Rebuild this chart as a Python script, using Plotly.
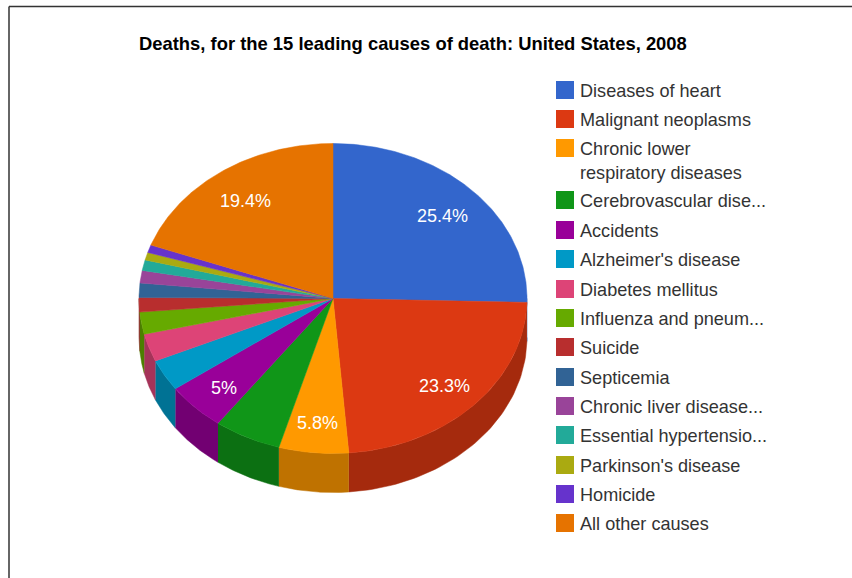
import numpy as np
import plotly.graph_objects as go

causes = ["Diseases of heart", "Malignant neoplasms", "Chronic lower<br>respiratory diseases",
          "Cerebrovascular dise...", "Accidents", "Alzheimer's disease", "Diabetes mellitus",
          "Influenza and pneum...", "Suicide", "Septicemia", "Chronic liver disease...",
          "Essential hypertensio...", "Parkinson's disease", "Homicide", "All other causes"]
shares = [25.4, 23.3, 5.8, 5.6, 5.0, 3.3, 2.9, 2.3, 1.5, 1.5, 1.3, 1.1, 0.8, 0.8, 19.4]
labels = ["25.4%", "23.3%", "5.8%", "", "5%", "", "", "", "", "", "", "", "", "", "19.4%"]
colors = ["#3366CC", "#DC3912", "#FF9900", "#109618", "#990099", "#0099C6", "#DD4477", "#66AA00",
          "#B82E2E", "#316395", "#994499", "#22AA99", "#AAAA11", "#6633CC", "#E67300"]
legend_y = [90, 119, 148, 200, 230, 259, 289, 318, 347, 377, 406, 435, 465, 494, 523]

CX, CY, RX, RY, DEPTH = 333, 298.5, 194, 155, 39
LABEL_R = 0.79
LABEL_DY = 3

def darken(c, k=0.75):
    return "#" + "".join(f"{int(int(c[i:i+2], 16) * k):02X}" for i in (1, 3, 5))

def pt(theta):
    return CX + RX * np.sin(theta), CY - RY * np.cos(theta)

fig = go.Figure()
edges = np.cumsum([0] + shares) / sum(shares) * 2 * np.pi

# walls first (they sit below the top face)
for i, c in enumerate(colors):
    a, b = max(edges[i], np.pi / 2), min(edges[i + 1], 3 * np.pi / 2)
    if b <= a:
        continue
    t = np.linspace(a, b, 60)
    x, y = pt(t)
    fig.add_trace(go.Scatter(x=np.r_[x, x[::-1]], y=np.r_[y, y[::-1] + DEPTH], mode="lines", fill="toself",
                             fillcolor=darken(c), line=dict(color=darken(c), width=0.5), hoverinfo="skip"))

# top face
for i, c in enumerate(colors):
    t = np.linspace(edges[i], edges[i + 1], max(8, int(shares[i] * 6)))
    x, y = pt(t)
    fig.add_trace(go.Scatter(x=np.r_[CX, x, CX], y=np.r_[CY, y, CY], mode="lines", fill="toself",
                             fillcolor=c, line=dict(color=c, width=0.5), name=causes[i],
                             hoverinfo="name"))

# slice labels
for i, lab in enumerate(labels):
    if lab:
        mid = (edges[i] + edges[i + 1]) / 2
        fig.add_annotation(x=CX + RX * LABEL_R * np.sin(mid), y=CY - RY * LABEL_R * np.cos(mid) + LABEL_DY, text=lab,
                           showarrow=False, font=dict(family="Liberation Sans", size=18, color="white"))

# legend
for name, c, ly in zip(causes, colors, legend_y):
    fig.add_shape(type="rect", x0=556, x1=574, y0=ly - 9, y1=ly + 9, fillcolor=c, line_width=0)
    fig.add_annotation(x=578, y=ly + 0.5 if "<br>" not in name else ly + 12.5, text=name, showarrow=False,
                       xanchor="left", align="left", font=dict(family="Liberation Sans", size=18.1, color="#333333"))

# title and frame
fig.add_annotation(x=413, y=43, text="<b>Deaths, for the 15 leading causes of death: United States, 2008</b>",
                   showarrow=False, font=dict(family="Liberation Sans", size=18.4, color="black"))
fig.add_shape(type="line", x0=9, x1=852, y0=6.5, y1=6.5, line=dict(color="#333333", width=1.5))
fig.add_shape(type="line", x0=9, x1=9, y0=6.5, y1=578, line=dict(color="#333333", width=1.5))

fig.update_layout(width=852, height=578, margin=dict(l=0, r=0, t=0, b=0), showlegend=False,
                  paper_bgcolor="white", plot_bgcolor="white",
                  xaxis=dict(range=[0, 852], visible=False, fixedrange=True),
                  yaxis=dict(range=[578, 0], visible=False, fixedrange=True))
fig.write_html("out.html", config={"displayModeBar": False},
               post_script="document.body.style.margin='0';document.documentElement.style.overflow='hidden';")
